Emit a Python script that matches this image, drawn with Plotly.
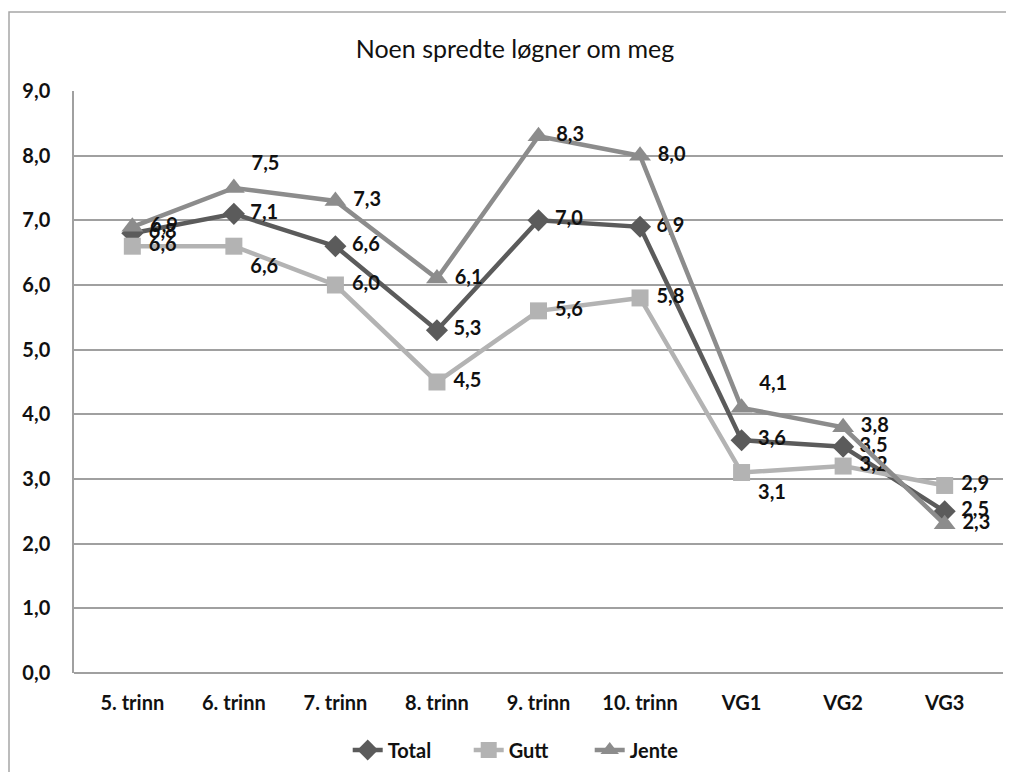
import plotly.graph_objects as go

categories = ["5. trinn", "6. trinn", "7. trinn", "8. trinn", "9. trinn", "10. trinn", "VG1", "VG2", "VG3"]
total = [6.8, 7.1, 6.6, 5.3, 7.0, 6.9, 3.6, 3.5, 2.5]
gutt = [6.6, 6.6, 6.0, 4.5, 5.6, 5.8, 3.1, 3.2, 2.9]
jente = [6.9, 7.5, 7.3, 6.1, 8.3, 8.0, 4.1, 3.8, 2.3]

# page offset (default body margin of the html page)
OFF = 8
W, H = 1014 - 2 * OFF, 780 - 2 * OFF
L, R, T, B = 74 - OFF, 1003 - OFF, 91 - OFF, 673 - OFF
pw, ph = R - L, B - T

font = "Lato, 'Open Sans', sans-serif"
lbl = dict(family=font, size=20, color="#111111", weight="bold")

def fmt(v):
    return f"{v:.1f}".replace(".", ",")

MR, BR, TR = "middle right", "bottom right", "top right"
series = [
    ("Total", total, "#5b5b5b", "diamond", 17, [MR, MR, MR, MR, MR, MR, MR, MR, MR]),
    ("Gutt", gutt, "#b3b3b3", "square", 17, [MR, BR, MR, MR, MR, MR, BR, MR, MR]),
    ("Jente", jente, "#8c8c8c", "triangle-up", 19, [MR, TR, MR, MR, MR, MR, TR, MR, MR]),
]

fig = go.Figure()
for name, vals, col, sym, sz, pos in series:
    fig.add_trace(go.Scatter(
        x=categories, y=vals, name=name, mode="lines+markers+text",
        line=dict(color=col, width=4.5),
        marker=dict(symbol=sym, size=sz, color=col),
        text=[" " + fmt(v) for v in vals], textposition=pos,
        textfont=lbl, cliponaxis=False,
    ))

fig.add_shape(type="rect", xref="paper", yref="paper",
              x0=(1 - L) / pw, x1=(1100 - L) / pw,
              y0=(B - 900) / ph, y1=(B - 4) / ph,
              line=dict(color="#a6a6a6", width=1.5), layer="below")

tf = dict(family=font, size=20, color="#111111", weight="bold")
fig.update_layout(
    width=W, height=H,
    margin=dict(l=L, r=W - R, t=T, b=H - B, autoexpand=False),
    paper_bgcolor="white", plot_bgcolor="white",
    separators=", ",
    title=dict(text="Noen spredte løgner om meg", x=(515 - OFF) / W, xanchor="center",
               y=1 - 41 / H, yanchor="middle",
               font=dict(family=font, size=25, color="#111111")),
    showlegend=True,
    legend=dict(orientation="h", x=0.49, xanchor="center",
                y=(B - 742) / ph, yanchor="middle",
                font=tf, traceorder="normal", entrywidth=76, entrywidthmode="pixels"),
    xaxis=dict(showgrid=False, showline=False, ticks="", ticklabelstandoff=16,
               tickfont=tf, tickangle=0),
    yaxis=dict(range=[0, 9], dtick=1, tickformat=".1f",
               showgrid=True, gridcolor="#a0a0a0", gridwidth=1.5,
               showline=True, linecolor="#a0a0a0", linewidth=1.5,
               zeroline=True, zerolinecolor="#a0a0a0", zerolinewidth=1.5,
               ticks="", ticklabelstandoff=18,
               tickfont=tf),
)

fig.write_html("out.html")
